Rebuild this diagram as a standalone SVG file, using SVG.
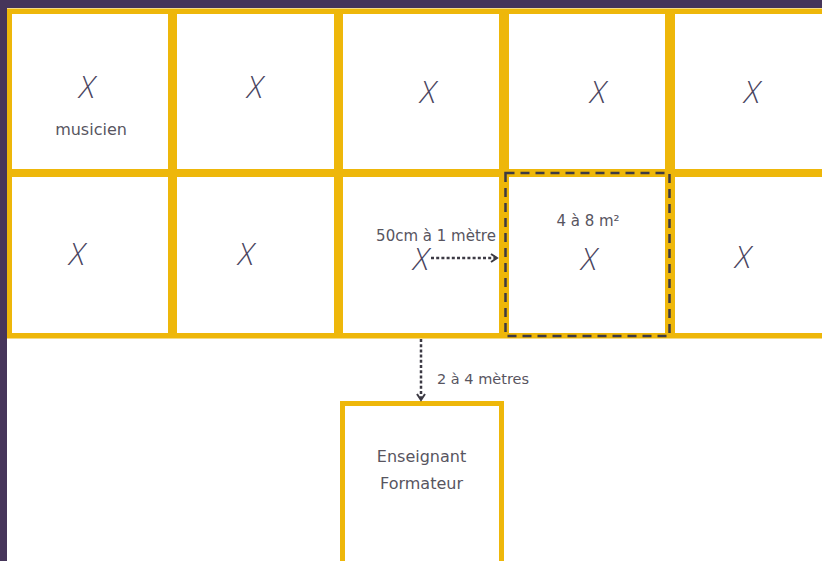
<svg xmlns="http://www.w3.org/2000/svg" width="822" height="561" viewBox="0 0 822 561">
<defs>
<style>
.cell{fill:#ffffff;}
.x{font-family:"Open Sans","Liberation Sans",sans-serif;font-size:31px;font-style:italic;font-weight:300;fill:#4a4560;text-anchor:middle;}
.lbl{font-family:"DejaVu Sans","Liberation Sans",sans-serif;font-size:15px;fill:#58555f;text-anchor:middle;}
.big{font-size:16px;}
.dot{fill:none;stroke:#3c3a44;stroke-width:2.5;stroke-dasharray:3 2.2;}
</style>
<marker id="ah" viewBox="0 0 10 10" refX="8" refY="5" markerWidth="10" markerHeight="10" markerUnits="userSpaceOnUse" orient="auto">
<path d="M2,1 L8,5 L2,9" fill="none" stroke="#3c3a44" stroke-width="2"/>
</marker>
</defs>
<rect x="0" y="0" width="822" height="561" fill="#ffffff"/>
<rect x="0" y="0" width="822" height="8" fill="#46355a"/>
<rect x="0" y="0" width="7" height="561" fill="#46355a"/>
<g id="grid-frame">
<rect x="7" y="8.5" width="815" height="330" fill="#eeb70a"/>
</g>
<g id="cell-1-1"><rect class="cell" x="12" y="14" width="156" height="155"/><text class="x" x="87" y="98">X</text><text class="lbl big" x="91" y="135">musicien</text></g>
<g id="cell-1-2"><rect class="cell" x="177" y="14" width="157" height="155"/><text class="x" x="255" y="98">X</text></g>
<g id="cell-1-3"><rect class="cell" x="343" y="14" width="156" height="155"/><text class="x" x="428" y="103">X</text></g>
<g id="cell-1-4"><rect class="cell" x="509" y="14" width="156" height="155"/><text class="x" x="598" y="103">X</text></g>
<g id="cell-1-5"><rect class="cell" x="675" y="14" width="147" height="155"/><text class="x" x="752" y="103">X</text></g>
<g id="cell-2-1"><rect class="cell" x="12" y="177" width="156" height="156"/><text class="x" x="77" y="265">X</text></g>
<g id="cell-2-2"><rect class="cell" x="177" y="177" width="157" height="156"/><text class="x" x="246" y="265">X</text></g>
<g id="cell-2-3"><rect class="cell" x="343" y="177" width="156" height="156"/><text class="x" x="421" y="270">X</text><text class="lbl" x="436" y="241">50cm à 1 mètre</text></g>
<g id="cell-2-4"><rect class="cell" x="509" y="177" width="156" height="156"/><text class="x" x="589" y="270">X</text><text class="lbl" x="588" y="226">4 à 8 m²</text>
<rect x="505.5" y="173" width="164" height="163" fill="none" stroke="#3c3a44" stroke-width="2.5" stroke-dasharray="9 6"/></g>
<g id="cell-2-5"><rect class="cell" x="675" y="177" width="147" height="156"/><text class="x" x="743" y="268">X</text></g>
<g id="teacher"><rect x="342.5" y="403.5" width="159" height="175" fill="#ffffff" stroke="#eeb70a" stroke-width="5"/><text class="lbl big" x="421.5" y="462">Enseignant</text><text class="lbl big" x="421.5" y="489">Formateur</text></g>
<g id="connectors">
<line class="dot" x1="431" y1="258" x2="497" y2="258" marker-end="url(#ah)"/>
<line class="dot" x1="421" y1="339" x2="421" y2="400" marker-end="url(#ah)"/>
<text class="lbl" x="437" y="384" style="text-anchor:start;font-size:14.5px">2 à 4 mètres</text>
</g>
</svg>
